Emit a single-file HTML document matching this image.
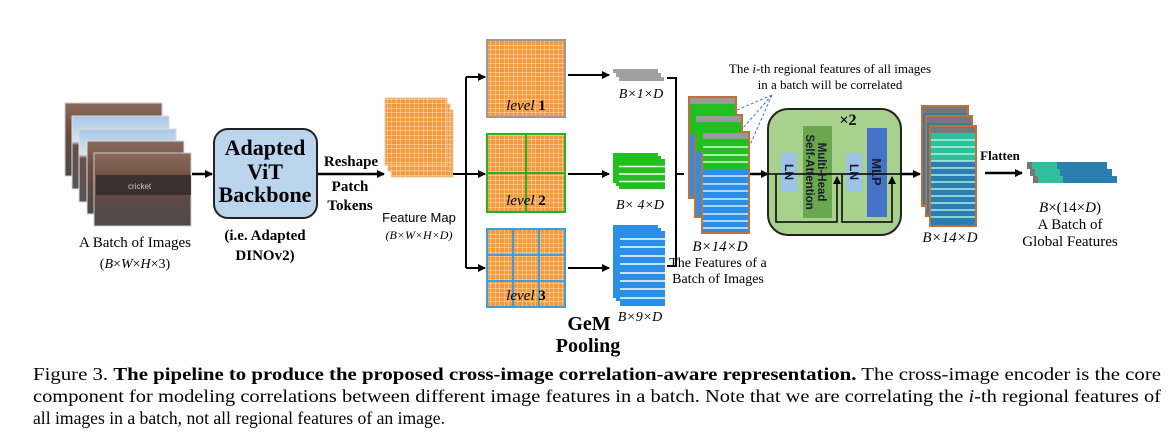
<!DOCTYPE html>
<html><head><meta charset="utf-8"><style>
body{margin:0;background:#fff;}
svg{display:block;font-family:"Liberation Serif",serif;}
</style></head><body>
<svg width="1171" height="442" viewBox="0 0 1171 442" xmlns="http://www.w3.org/2000/svg">
<defs>
<pattern id="og" width="4.5" height="4.5" patternUnits="userSpaceOnUse"><rect width="4.5" height="4.5" fill="#f39a3c"/><path d="M0 0H4.5M0 0V4.5" stroke="#fde2c4" stroke-width="0.9"/></pattern>
<marker id="ah" markerWidth="8" markerHeight="8" refX="7" refY="4" orient="auto" markerUnits="userSpaceOnUse"><path d="M0 0L8 4L0 8z" fill="#000"/></marker>
<linearGradient id="ph" x1="0" y1="0" x2="0" y2="1"><stop offset="0" stop-color="#8a6a5a"/><stop offset="0.4" stop-color="#6b4b40"/><stop offset="1" stop-color="#4a4a4a"/></linearGradient>
<linearGradient id="sky" x1="0" y1="0" x2="0" y2="1"><stop offset="0" stop-color="#a8c8e8"/><stop offset="0.35" stop-color="#d8e4ee"/><stop offset="0.4" stop-color="#6a5048"/><stop offset="1" stop-color="#555"/></linearGradient>
</defs>

<!-- image stack -->
<rect x="65" y="103" width="97" height="73" fill="url(#ph)" stroke="#ccc"/>
<rect x="72" y="116" width="97" height="73" fill="url(#sky)" stroke="#ddd"/>
<rect x="79" y="129" width="97" height="73" fill="url(#sky)" stroke="#ddd"/>
<rect x="87" y="141" width="97" height="73" fill="url(#ph)" stroke="#ddd"/>
<rect x="94" y="153" width="97" height="73" fill="url(#ph)" stroke="#ccc"/>
<rect x="96" y="175" width="95" height="20" fill="#3a3030"/>
<text x="128" y="189" font-size="8" fill="#ccc" font-family="Liberation Sans,sans-serif">cricket</text>
<text x="135" y="247" font-size="15" text-anchor="middle">A Batch of Images</text>
<text x="135" y="268" font-size="14" text-anchor="middle">(<tspan font-style="italic">B</tspan>×<tspan font-style="italic">W</tspan>×<tspan font-style="italic">H</tspan>×3)</text>
<line x1="192" y1="174" x2="212" y2="174" stroke="#000" stroke-width="2.5" marker-end="url(#ah)"/>

<!-- backbone -->
<rect x="214" y="129" width="103" height="89" rx="14" fill="#bcd5ee" stroke="#222" stroke-width="2"/>
<g font-weight="bold" font-size="22" text-anchor="middle">
<text x="265" y="155">Adapted</text><text x="265" y="179">ViT</text><text x="265" y="202">Backbone</text></g>
<g font-weight="bold" font-size="15" text-anchor="middle">
<text x="265" y="240">(i.e. Adapted</text><text x="265" y="260">DINOv2)</text>
<text x="351" y="166">Reshape</text><text x="350" y="191">Patch</text><text x="350" y="210">Tokens</text></g>
<line x1="318" y1="174" x2="384" y2="174" stroke="#000" stroke-width="2.5" marker-end="url(#ah)"/>

<!-- feature map -->
<rect x="391" y="110" width="62" height="67" fill="url(#og)" stroke="#e9c9a8"/>
<rect x="388" y="104" width="62" height="67" fill="url(#og)" stroke="#e9c9a8"/>
<rect x="385" y="98" width="62" height="67" fill="url(#og)" stroke="#e9c9a8"/>
<text x="419" y="222" font-size="13" text-anchor="middle" font-family="Liberation Sans,sans-serif">Feature Map</text>
<text x="419" y="239" font-size="12" text-anchor="middle" font-style="italic">(B×W×H×D)</text>

<!-- branching -->
<g stroke="#000" stroke-width="2" fill="none">
<line x1="453" y1="174" x2="466" y2="174"/>
<path d="M466 77V268"/>
<line x1="466" y1="77" x2="485" y2="77" marker-end="url(#ah)"/>
<line x1="466" y1="174" x2="485" y2="174" marker-end="url(#ah)"/>
<line x1="466" y1="268" x2="485" y2="268" marker-end="url(#ah)"/>
<line x1="568" y1="75" x2="609" y2="75" marker-end="url(#ah)"/>
<line x1="568" y1="174" x2="609" y2="174" marker-end="url(#ah)"/>
<line x1="568" y1="268" x2="609" y2="268" marker-end="url(#ah)"/>
<path d="M667 78H676V266H667"/>
<line x1="676" y1="174" x2="684" y2="174"/>
</g>

<!-- level boxes -->
<rect x="487" y="40" width="78" height="77" fill="url(#og)" stroke="#999" stroke-width="2"/>
<rect x="487" y="134" width="78" height="78" fill="url(#og)" stroke="#22b422" stroke-width="2"/>
<path d="M526 134V212M487 173H565" stroke="#22b422" stroke-width="2"/>
<rect x="487" y="229" width="78" height="78" fill="url(#og)" stroke="#3a9ee0" stroke-width="2"/>
<path d="M513 229V307M539 229V307M487 255H565M487 281H565" stroke="#3a9ee0" stroke-width="2"/>
<g font-size="15" text-anchor="middle"><text x="526" y="110"><tspan font-style="italic">level</tspan> <tspan font-weight="bold">1</tspan></text>
<text x="526" y="205"><tspan font-style="italic">level</tspan> <tspan font-weight="bold">2</tspan></text>
<text x="526" y="300"><tspan font-style="italic">level</tspan> <tspan font-weight="bold">3</tspan></text></g>

<!-- tokens -->
<g fill="#a0a0a0"><rect x="613" y="69" width="45" height="4"/><rect x="616" y="73" width="45" height="4"/><rect x="619" y="77" width="45" height="4"/></g>
<g>
<rect x="613" y="153" width="45" height="30" fill="#1fc01f"/><rect x="616" y="156" width="45" height="30" fill="#1fc01f"/><rect x="619" y="159" width="46" height="30" fill="#1fc01f"/>
<path d="M619 166.5H665M619 174H665M619 181.5H665" stroke="#fff" stroke-width="1.5"/></g>
<g>
<rect x="613" y="225" width="45" height="73" fill="#2a8fe8"/><rect x="616" y="228" width="45" height="73" fill="#2a8fe8"/><rect x="620" y="231" width="45" height="75" fill="#2a8fe8"/>
<path d="M620 239H665M620 247H665M620 256H665M620 264H665M620 273H665M620 281H665M620 289H665M620 298H665" stroke="#fff" stroke-width="1.5"/></g>
<g font-size="14" font-style="italic" text-anchor="middle"><text x="641" y="98">B×1×D</text><text x="640" y="209">B× 4×D</text><text x="640" y="321">B×9×D</text></g>
<g font-weight="bold" font-size="20" text-anchor="middle"><text x="589" y="330">GeM</text><text x="588" y="352">Pooling</text></g>

<!-- B x 14 x D stack -->
<g stroke="#c0703a" stroke-width="2">
<rect x="689" y="97" width="47" height="101" fill="#2a8fe8"/>
<rect x="695" y="115" width="47" height="102" fill="#2a8fe8"/>
<rect x="702" y="132" width="47" height="101" fill="#2a8fe8"/></g>
<rect x="690" y="98" width="45" height="6" fill="#999"/><rect x="690" y="104" width="45" height="30" fill="#1fc01f"/>
<rect x="696" y="116" width="45" height="6" fill="#999"/><rect x="696" y="122" width="45" height="30" fill="#1fc01f"/>
<rect x="703" y="133" width="45" height="6" fill="#999"/><rect x="703" y="139" width="45" height="30" fill="#1fc01f"/>
<path d="M703 147H748M703 155H748M703 162H748M703 176H748M703 184H748M703 191H748M703 199H748M703 206H748M703 214H748M703 221H748M703 228H748" stroke="#fff" stroke-width="1.3"/>
<text x="720" y="251" font-size="15" font-style="italic" text-anchor="middle">B×14×D</text>
<g font-size="14" text-anchor="middle"><text x="718" y="267">The Features of a</text><text x="718" y="283">Batch of Images</text></g>
<g font-size="13" text-anchor="middle"><text x="830" y="73">The <tspan font-style="italic">i</tspan>-th regional features of all images</text><text x="830" y="89">in a batch will be correlated</text></g>
<g stroke="#4a78d0" stroke-width="1" stroke-dasharray="3,2" fill="none"><path d="M772 95L737 110M772 95L743 128M772 95L750 145"/></g>

<!-- encoder -->
<line x1="750" y1="174" x2="768" y2="174" stroke="#000" stroke-width="2.5" marker-end="url(#ah)"/>
<rect x="768" y="109" width="133" height="126" rx="20" fill="#a9d18e" stroke="#222" stroke-width="2"/>
<text x="848" y="125" font-size="16" font-weight="bold" text-anchor="middle">×2</text>
<rect x="781" y="153" width="16" height="39" fill="#9dc3e6"/>
<rect x="803" y="126" width="29" height="92" fill="#6aa84f"/>
<rect x="846" y="153" width="16" height="39" fill="#9dc3e6"/>
<rect x="867" y="128" width="20" height="89" fill="#4472c4"/>
<g stroke="#000" stroke-width="1.5" fill="none">
<path d="M768 174H901"/>
<path d="M776 174V222H837V177" marker-end="url(#ah)"/>
<path d="M842 174V222H892V177" marker-end="url(#ah)"/>
</g>
<g font-family="Liberation Sans,sans-serif" font-weight="bold" fill="#1a1a2a">
<text transform="translate(785,172) rotate(90)" font-size="12" text-anchor="middle">LN</text>
<text transform="translate(850,172) rotate(90)" font-size="12" text-anchor="middle">LN</text>
<text transform="translate(872,172) rotate(90)" font-size="13" text-anchor="middle">MLP</text>
<text transform="translate(818,172) rotate(90)" font-size="11.5" text-anchor="middle">Multi-Head</text>
<text transform="translate(806,172) rotate(90)" font-size="11.5" text-anchor="middle">Self-Attention</text></g>
<line x1="901" y1="174" x2="920" y2="174" stroke="#000" stroke-width="2.5" marker-end="url(#ah)"/>

<!-- output stack -->
<g stroke="#c0703a" stroke-width="2">
<rect x="922" y="106" width="46" height="100" fill="#2a7fb0"/>
<rect x="926" y="116" width="46" height="100" fill="#2a7fb0"/>
<rect x="930" y="126" width="46" height="100" fill="#2a7fb0"/></g>
<rect x="923" y="107" width="44" height="6" fill="#777"/>
<rect x="927" y="117" width="44" height="6" fill="#777"/>
<rect x="931" y="127" width="44" height="6" fill="#777"/><rect x="931" y="133" width="44" height="28" fill="#2fbf9a"/>
<path d="M931 140H975M931 147H975M931 154H975M931 161H975M931 168H975M931 175H975M931 182H975M931 189H975M931 196H975M931 203H975M931 210H975M931 217H975" stroke="#cfe" stroke-width="1.2"/>
<text x="950" y="242" font-size="15" font-style="italic" text-anchor="middle">B×14×D</text>
<text x="1000" y="160" font-size="13" font-weight="bold" text-anchor="middle">Flatten</text>
<line x1="985" y1="173" x2="1022" y2="173" stroke="#000" stroke-width="2.5" marker-end="url(#ah)"/>

<!-- global features -->
<g>
<rect x="1027" y="162" width="5" height="7" fill="#777"/><rect x="1032" y="162" width="25" height="7" fill="#2fbf9a"/><rect x="1057" y="162" width="50" height="7" fill="#2a7fb0"/>
<rect x="1030" y="169" width="5" height="7" fill="#777"/><rect x="1035" y="169" width="25" height="7" fill="#2fbf9a"/><rect x="1060" y="169" width="52" height="7" fill="#2a7fb0"/>
<rect x="1033" y="176" width="5" height="7" fill="#777"/><rect x="1038" y="176" width="25" height="7" fill="#2fbf9a"/><rect x="1063" y="176" width="54" height="7" fill="#2a7fb0"/>
</g>
<g font-size="15" text-anchor="middle"><text x="1070" y="212"><tspan font-style="italic">B</tspan>×(14×<tspan font-style="italic">D</tspan>)</text>
<text x="1070" y="229">A Batch of</text><text x="1070" y="246">Global Features</text></g>

<!-- caption -->
<g font-size="17.5">
<text x="33" y="380" textLength="1128" lengthAdjust="spacingAndGlyphs">Figure 3.  <tspan font-weight="bold">The pipeline to produce the proposed cross-image correlation-aware representation.</tspan> The cross-image encoder is the core</text>
<text x="33" y="402" textLength="1128" lengthAdjust="spacingAndGlyphs">component for modeling correlations between different image features in a batch. Note that we are correlating the <tspan font-style="italic">i</tspan>-th regional features of</text>
<text x="33" y="424" textLength="412" lengthAdjust="spacingAndGlyphs">all images in a batch, not all regional features of an image.</text>
</g>
</svg>
</body></html>
